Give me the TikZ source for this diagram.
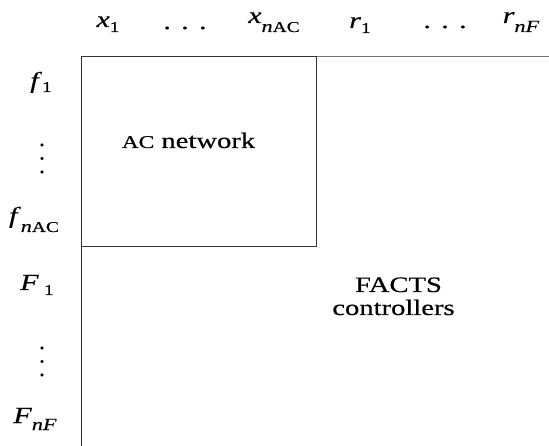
\documentclass[tikz,border=0pt]{standalone}
\usepackage{graphicx}
\usepackage{fontspec}
\setmainfont{Liberation Serif}[FakeBold=0.4]
\newcommand\sx[1]{\scalebox{1.3}[1]{#1}}
\newcommand\subf{\fontsize{15}{15}\selectfont}
\newcommand\sbn{\fontsize{17}{17}\selectfont}
\newcommand\lblsub[3]{\sx{\textit{#1}\raisebox{#2}{#3}}}
\newcommand\hdots{\sx{.\hspace{8pt}.\hspace{8pt}.}}
\begin{document}
\begin{tikzpicture}[x=1pt,y=-1pt,
  lab/.style={inner sep=0pt,anchor=base,font=\fontsize{23}{23}\selectfont},
  vd/.style={inner sep=0pt,anchor=base,align=center,font=\fontsize{23}{13.5}\selectfont},
  txt/.style={inner sep=0pt,anchor=base,font=\fontsize{22}{22}\selectfont},
  frame/.style={draw=black!80,line width=0.9pt},
  lightline/.style={draw=black!55,line width=0.9pt}]
\useasboundingbox (0,0) rectangle (549,446);
% grid lines
\coordinate (tl) at (81.5,56);
\coordinate (br) at (316.5,246);
\coordinate (tr) at (549,56);
\coordinate (bl) at (81.5,446);
\draw[frame] (tl) rectangle (br);
\draw[lightline] (br |- tl) -- (tr);
\draw[frame] (tl |- br) -- (bl);
% column labels
\node[lab] (x1) at (108,27) {\lblsub{x}{-5pt}{\subf 1}};
\node[lab] (cd1) at (185,29) {\hdots};
\node[lab] (xn) at (274,23) {\lblsub{x}{-9pt}{\sbn\textit{n}\subf AC}};
\node[lab] (r1) at (360,28) {\lblsub{r}{-5pt}{\subf 1}};
\node[lab] (cd2) at (445,28) {\hdots};
\node[lab] (rn) at (521,23) {\lblsub{r}{-9pt}{\sbn\textit{nF}}};
% row labels
\node[lab] (f1) at (41,88) {\lblsub{f}{-4pt}{\subf 1}};
\node[vd] (vd1) at (42,173) {.\\.\\.};
\node[lab] (fn) at (34,223) {\lblsub{f}{-9pt}{\sbn\textit{n}\subf AC}};
\node[lab] (F1) at (37,290) {\lblsub{F}{-5pt}{\hspace{4pt}\subf 1}};
\node[vd] (vd2) at (42,376) {.\\.\\.};
\node[lab] (Fn) at (35,423) {\lblsub{F}{-7pt}{\sbn\textit{nF}}};
% block texts
\node[txt] (ac) at (188.5,148) {\sx{{\fontsize{18}{18}\selectfont AC} network}};
\node[txt] (facts) at (398.5,292) {\sx{FACTS}};
\node[txt] (ctrl) at (393.5,315) {\sx{controllers}};
\end{tikzpicture}
\end{document}
